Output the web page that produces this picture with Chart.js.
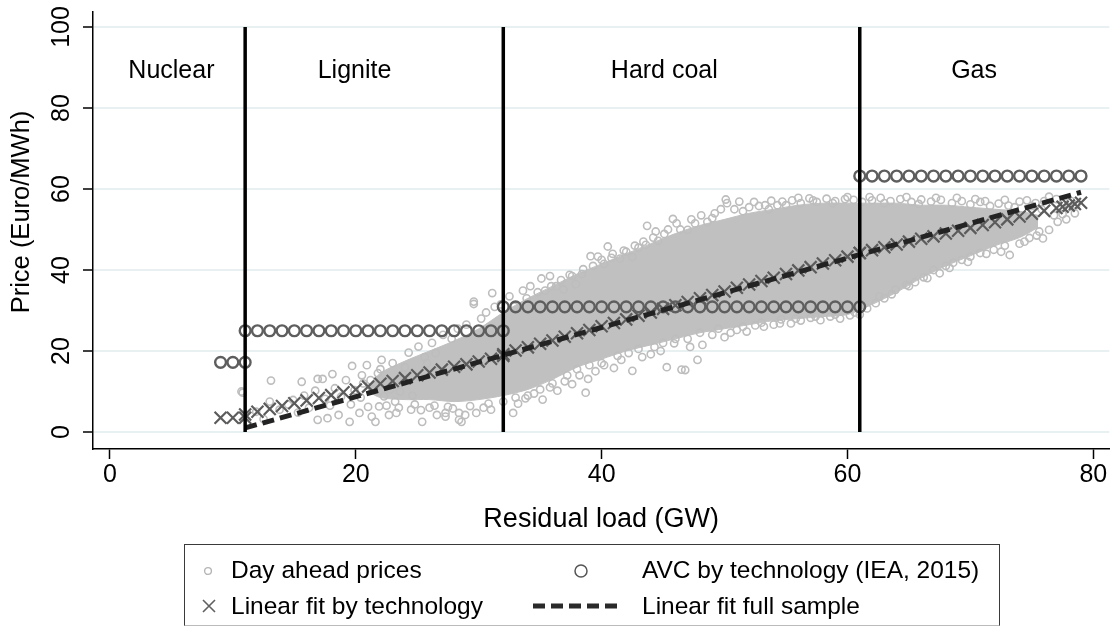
<!DOCTYPE html>
<html>
<head>
<meta charset="utf-8">
<title>Residual load and day ahead prices</title>
<script src="https://cdn.jsdelivr.net/npm/chart.js@4.4.1/dist/chart.umd.min.js"></script>
<style>
  html, body { margin: 0; padding: 0; background: #fff; }
  #wrap { position: relative; width: 1120px; height: 626px; }
  #legend {
    position: absolute; left: 184px; top: 544px; width: 816px; height: 82px;
    box-sizing: border-box; border: 1.5px solid #3a3a3a; border-bottom-color: #bbb;
    font-family: "Liberation Sans", Arial, sans-serif; font-size: 24.5px; color: #000;
  }
  .item { position: absolute; white-space: nowrap; line-height: 30px; }
  .key { position: absolute; line-height: 0; }
  .key svg { display: block; }
</style>
</head>
<body>
<div id="wrap">
  <canvas id="priceChart" width="1120" height="626"></canvas>
  <div id="legend"></div>
</div>
<script>
// technology boundaries (GW) and names
const techBounds = [11, 32, 61];
const techNames = ['Nuclear', 'Lignite', 'Hard coal', 'Gas'];

const xTicks = [0, 20, 40, 60, 80];
const yTicks = [0, 20, 40, 60, 80, 100];

// dense core of the day-ahead price cloud (envelope)
const cloudLoad = [21, 22, 24, 26, 28, 30, 32, 34, 36, 38, 40, 42, 44, 46, 48, 50, 52, 54, 56, 58, 60, 62, 64, 66, 68, 70, 72, 74, 75.5];
const cloudLow  = [10, 8.5, 8, 8, 7.5, 8, 9, 10.5, 13, 16, 18, 20, 21.5, 23, 24.5, 25.5, 26.5, 27.5, 28, 28.5, 29, 31.5, 34.5, 38, 41, 43.5, 46, 48, 50.5];
const cloudHigh = [11, 14.5, 17.5, 20, 22.5, 25.5, 29.5, 33, 36, 39, 41.5, 44, 46.5, 49, 51, 52.5, 54, 55, 56, 56.5, 56.5, 56.5, 56.5, 56, 56, 55.5, 55, 54.5, 53.5];

// single hours outside the dense core: [residual load GW, price EUR/MWh]
const dayAheadPoints = [
  [10.7,10.0],[10.8,9.7],[11.9,5.0],[12.5,3.2],[13.0,7.5],[13.1,12.7],[13.8,5.5],[14.5,6.8],[14.9,7.9],[15.3,4.8],
  [15.6,12.4],[15.8,9.0],[16.2,6.0],[16.7,10.2],[16.9,13.1],[16.9,3.0],[17.3,13.1],[17.5,8.2],[17.7,3.4],[17.9,6.5],
  [18.1,14.3],[18.3,10.8],[18.6,4.2],[18.8,8.7],[19.2,12.8],[19.5,2.5],[19.6,6.8],[19.7,16.3],[19.9,10.3],[20.3,4.7],
  [20.4,8.5],[20.6,12.0],[20.9,16.5],[21.0,6.2],[21.3,3.8],[21.5,10.5],[21.6,2.5],[21.8,14.5],[21.9,6.3],[22.1,17.8],
  [22.3,8.8],[22.5,12.2],[22.7,4.2],[23.0,17.0],[23.2,7.5],[23.3,4.7],[23.6,10.0],[23.8,14.2],
  [24.3,19.6],[25.1,21.1],[25.6,18.5],[26.2,22.0],[27.1,24.0],[27.8,23.0],[28.3,25.5],[29.0,26.5],[29.6,31.6],[29.6,32.2],
  [30.2,28.0],[30.6,29.5],[31.1,34.3],[31.3,30.9],[31.8,31.5],
  [24.5,5.5],[25.3,5.4],[25.4,2.5],[26.0,6.0],[26.6,4.2],[27.3,4.7],[27.3,3.8],[27.9,5.8],[28.4,3.0],[28.4,4.7],
  [28.6,2.5],[28.9,4.2],[29.8,4.7],[30.4,6.0],[31.0,5.5],[32.8,4.7],
  [32.5,33.5],[33.6,34.9],[34.2,36.0],[35.1,37.9],[35.4,34.9],[35.8,38.5],[36.3,36.0],[36.9,35.2],[37.4,38.8],[37.9,36.5],
  [38.5,40.2],[39.1,43.4],[39.7,43.3],[40.2,41.5],[40.5,45.8],[40.9,44.0],[41.5,42.8],[42.0,44.5],[42.5,43.2],[43.0,45.5],
  [43.4,47.0],[43.7,50.9],[44.2,48.0],[44.6,47.2],[45.1,48.9],
  [33.2,7.0],[33.8,8.3],[34.5,9.5],[35.2,8.0],[35.8,11.0],[36.4,10.2],[37.0,12.5],[37.6,11.8],[38.2,14.0],[38.7,9.7],
  [38.9,13.1],[39.5,15.0],[40.2,16.5],[41.0,15.8],[41.6,17.8],[42.5,15.1],[43.3,18.5],[44.0,19.2],[44.8,20.0],[45.3,16.0],
  [45.9,21.9],[46.5,15.4],[46.8,15.3],[47.2,21.0],[47.8,17.8],[48.2,21.5],
  [45.8,52.6],[46.4,50.0],[47.0,49.9],[47.6,51.5],[48.6,51.9],[49.2,54.0],[50.1,57.4],[50.2,56.5],[50.8,55.0],[51.2,56.9],
  [52.0,55.5],[52.8,55.8],[53.3,56.0],[53.8,57.1],[54.3,56.0],[54.7,56.9],[55.5,57.2],[56.2,56.5],[56.9,57.7],[57.5,56.8],
  [58.3,57.6],[59.0,57.0],[59.8,57.5],[60.5,57.3],[61.2,56.8],[62.0,57.2],[62.7,57.8],
  [49.0,24.0],[50.0,23.4],[51.0,25.2],[51.8,24.8],[52.5,26.3],[53.2,26.0],[54.0,26.5],[54.6,27.8],[55.4,26.8],[56.2,27.5],
  [57.0,28.2],[57.8,27.6],[58.6,28.5],[59.4,28.0],[60.2,28.8],[61.0,29.0],[61.6,30.5],[62.3,31.8],
  [63.5,57.0],[64.3,57.5],[65.2,56.8],[66.0,57.4],[66.8,56.9],[67.6,57.3],[68.5,56.5],[69.3,57.0],[70.0,56.2],[70.8,56.8],
  [71.6,55.8],[72.3,56.4],[73.1,55.9],[74.0,56.9],[74.6,57.2],[75.3,56.5],[76.0,57.0],[76.4,58.1],[77.0,57.5],[77.6,56.8],
  [78.2,57.0],
  [63.0,33.0],[63.9,35.1],[64.8,36.3],[65.5,37.0],[66.2,38.2],[67.0,40.0],[67.5,39.2],[68.0,41.0],[68.6,41.8],[69.3,42.5],
  [70.0,43.3],[70.8,44.2],[71.9,45.0],[72.5,44.5],[73.2,43.7],[74.0,46.5],[74.8,47.9],[75.4,48.5],[75.9,47.8],[76.4,49.9],
  [77.1,51.9],[77.8,52.5],[78.5,54.0],[76.8,53.5],[77.3,55.0],[78.0,55.5],[78.6,56.0],[77.5,53.8],
  [32.9,31.0],[33.9,33.0],[34.8,34.5],[35.9,36.0],[36.7,37.5],[37.6,38.5],[38.4,39.0],[39.3,41.0],[40.0,42.5],[40.8,43.0],
  [41.8,44.8],[42.7,46.0],[43.6,46.2],[44.4,49.5],[45.4,50.0],[46.1,51.5],[47.3,52.5],[48.1,53.5],[49.0,52.8],[49.7,55.0],
  [51.5,54.5],[52.4,56.8],[53.6,55.0],[55.0,56.0],[56.0,57.8],[57.2,57.2],[58.8,56.5],[60.0,58.0],[61.8,58.0],[63.0,56.5],
  [64.8,58.0],[65.8,56.3],[67.2,57.8],[68.9,57.8],[70.4,57.5],[71.2,57.0],[72.8,57.3],[73.6,55.5],[75.0,55.8],[75.8,55.0],
  [22.5,6.5],[23.5,6.0],[24.8,6.8],[26.4,6.5],[27.5,6.2],[29.3,6.4],[30.8,7.0],[32.0,7.5],[33.0,8.5],[34.0,9.0],
  [35.0,10.5],[36.0,12.0],[37.2,14.0],[38.0,15.5],[39.0,16.5],[40.0,17.0],[41.3,18.8],[42.2,19.5],[43.0,20.5],[44.3,21.0],
  [45.0,22.0],[46.0,23.0],[47.0,23.0],[48.0,24.5],[49.5,25.5],[50.5,24.5],[51.5,26.0],[53.0,27.0],[54.5,26.8],[55.8,28.0],
  [57.4,28.5],[59.0,29.0],[60.6,29.5],[62.6,33.5],[63.6,34.0],[65.0,36.0],[66.5,38.0],[68.3,40.5],[69.8,42.0],[71.3,44.0],
  [72.8,46.0],[74.4,47.0],[75.6,49.5],
  [20.5,14.0],[21.2,12.8],[22.0,15.5],[22.8,10.5],[23.4,12.5],[24.0,16.0],[24.6,9.0],[25.2,13.5],[25.8,17.0],[26.5,19.5]
];

// average variable cost by technology (IEA, 2015)
const avcLevels = [17.2, 25.0, 30.9, 63.2];
const avcLoads = [
  [9, 10, 11],
  [11, 12, 13, 14, 15, 16, 17, 18, 19, 20, 21, 22, 23, 24, 25, 26, 27, 28, 29, 30, 31, 32],
  [32, 33, 34, 35, 36, 37, 38, 39, 40, 41, 42, 43, 44, 45, 46, 47, 48, 49, 50, 51, 52, 53, 54, 55, 56, 57, 58, 59, 60, 61],
  [61, 62, 63, 64, 65, 66, 67, 68, 69, 70, 71, 72, 73, 74, 75, 76, 77, 78, 79]
];

// linear fit by technology
const fitTechLoad = [
  9, 10, 11,
  11, 12, 13, 14, 15, 16, 17, 18, 19, 20, 21, 22, 23, 24, 25, 26, 27, 28, 29, 30, 31, 32,
  32, 33, 34, 35, 36, 37, 38, 39, 40, 41, 42, 43, 44, 45, 46, 47, 48, 49, 50, 51, 52, 53, 54, 55, 56, 57, 58, 59, 60, 61,
  61, 62, 63, 64, 65, 66, 67, 68, 69, 70, 71, 72, 73, 74, 75, 76, 77, 77.5, 78, 78.5, 79
];
const fitTechPrice = [
  3.5, 3.5, 3.5,
  4.3, 5.0, 5.7, 6.4, 7.1, 7.8, 8.4, 9.1, 9.8, 10.5, 11.2, 11.9, 12.6, 13.3, 14.0, 14.7, 15.4, 16.1, 16.7, 17.4, 18.1, 18.8,
  19.2, 20.1, 20.9, 21.8, 22.6, 23.5, 24.4, 25.2, 26.1, 26.9, 27.8, 28.7, 29.5, 30.4, 31.3, 32.1, 33.0, 33.8, 34.7, 35.6,
  36.4, 37.3, 38.1, 39.0, 39.9, 40.7, 41.6, 42.4, 43.3, 44.2,
  44.2, 44.9, 45.6, 46.3, 47.0, 47.7, 48.3, 49.0, 49.7, 50.4, 51.1, 51.8, 52.5, 53.2, 53.9, 54.6, 55.3, 55.6, 55.9, 56.3, 56.6
];

// linear fit on the full sample
const fitFullLoad = [11, 79];
const fitFullPrice = [1.0, 59.2];

const FONT = '"Liberation Sans", Arial, Helvetica, sans-serif';
Chart.defaults.font.family = FONT;
Chart.defaults.color = '#000';

const toXY = (xs, ys) => xs.map((x, i) => ({ x: x, y: ys[i] }));

const avcData = [];
avcLoads.forEach((loads, t) => loads.forEach(x => avcData.push({ x: x, y: avcLevels[t] })));

const boundaryDatasets = techBounds.map(b => ({
  label: 'bound ' + b,
  data: [{ x: b, y: 0 }, { x: b, y: 100 }],
  showLine: true,
  borderColor: '#000',
  borderWidth: 3.5,
  pointRadius: 0,
  order: 1
}));

// region names at the top of the plot
const regionLabelLoad = [5.0, 19.9, 45.1, 70.3];
const regionLabels = {
  id: 'regionLabels',
  afterDatasetsDraw(chart) {
    const { ctx, scales: { x, y } } = chart;
    ctx.save();
    ctx.font = '25px ' + FONT;
    ctx.fillStyle = '#000';
    ctx.textAlign = 'center';
    ctx.textBaseline = 'middle';
    techNames.forEach((name, i) => {
      ctx.fillText(name, x.getPixelForValue(regionLabelLoad[i]), y.getPixelForValue(89.0));
    });
    ctx.restore();
  }
};

// y axis title, centred where the original places it
const yTitle = {
  id: 'yTitle',
  afterDraw(chart) {
    const ctx = chart.ctx;
    ctx.save();
    ctx.translate(22, 212);
    ctx.rotate(-Math.PI / 2);
    ctx.font = '25.5px ' + FONT;
    ctx.fillStyle = '#000';
    ctx.textAlign = 'center';
    ctx.textBaseline = 'middle';
    ctx.fillText('Price (Euro/MWh)', 0, 0);
    ctx.restore();
  }
};

new Chart(document.getElementById('priceChart'), {
  type: 'scatter',
  data: {
    datasets: [
      {
        label: 'cloud low',
        data: toXY(cloudLoad, cloudLow),
        showLine: true,
        borderColor: '#c0c0c0',
        borderWidth: 1,
        pointRadius: 0,
        tension: 0.3,
        fill: false,
        order: 10
      },
      {
        label: 'cloud high',
        data: toXY(cloudLoad, cloudHigh),
        showLine: true,
        borderColor: '#c0c0c0',
        borderWidth: 1,
        backgroundColor: '#c0c0c0',
        pointRadius: 0,
        tension: 0.3,
        fill: '-1',
        order: 9
      },
      {
        label: 'Day ahead prices',
        data: dayAheadPoints.map(p => ({ x: p[0], y: p[1] })),
        pointStyle: 'circle',
        pointRadius: 3.6,
        pointBorderWidth: 1.6,
        pointBorderColor: '#bdbdbd',
        pointBackgroundColor: 'rgba(0,0,0,0)',
        order: 8
      },
      {
        label: 'AVC by technology (IEA, 2015)',
        data: avcData,
        pointStyle: 'circle',
        pointRadius: 5.4,
        pointBorderWidth: 2.4,
        pointBorderColor: '#5e5e5e',
        pointBackgroundColor: 'rgba(0,0,0,0)',
        order: 7
      },
      {
        label: 'Linear fit by technology',
        data: toXY(fitTechLoad, fitTechPrice),
        pointStyle: 'crossRot',
        pointRadius: 8.5,
        pointBorderWidth: 2.2,
        pointBorderColor: '#5c5c5c',
        order: 6
      },
      {
        label: 'Linear fit full sample',
        data: toXY(fitFullLoad, fitFullPrice),
        showLine: true,
        borderColor: '#232323',
        borderWidth: 5,
        borderDash: [12, 6],
        borderCapStyle: 'butt',
        pointRadius: 0,
        order: 5
      },
      ...boundaryDatasets
    ]
  },
  options: {
    responsive: false,
    animation: false,
    events: [],
    layout: { padding: { left: 0, right: 7, top: 12, bottom: 77 } },
    plugins: {
      legend: { display: false },
      tooltip: { enabled: false }
    },
    scales: {
      x: {
        type: 'linear',
        min: -1.378,
        max: 81.3,
        afterBuildTicks: s => { s.ticks = xTicks.map(v => ({ value: v })); },
        afterFit: s => { s.height = 100; s.paddingLeft = 0; s.paddingRight = 0; },
        ticks: { font: { size: 25 }, padding: 1, color: '#000' },
        grid: { drawOnChartArea: false, drawTicks: true, tickLength: 10, tickColor: '#000', tickWidth: 1.5 },
        border: { display: true, color: '#000', width: 1.5 },
        title: { display: true, text: 'Residual load (GW)', font: { size: 27 }, color: '#000', padding: { top: 0, bottom: 13 } }
      },
      y: {
        type: 'linear',
        min: -4.2,
        max: 103.7,
        afterBuildTicks: s => { s.ticks = yTicks.map(v => ({ value: v })); },
        afterFit: s => { s.width = 93; s.paddingTop = 0; s.paddingBottom = 0; },
        ticks: { font: { size: 25 }, padding: 0, minRotation: 90, maxRotation: 90, crossAlign: 'center', color: '#000' },
        grid: { color: '#e9f0f2', lineWidth: 2, drawTicks: true, tickLength: 10, tickColor: '#000', tickWidth: 1.5 },
        border: { display: true, color: '#000', width: 1.5 }
      }
    }
  },
  plugins: [regionLabels, yTitle]
});

// legend below the plot, laid out in two columns like the original
const legendItems = [
  { text: 'Day ahead prices', left: 46, top: 10,
    key: '<svg width="14" height="14"><circle cx="7" cy="7" r="3.4" fill="none" stroke="#b5b5b5" stroke-width="1.4"/></svg>', kx: 16, ky: 19 },
  { text: 'AVC by technology (IEA, 2015)', left: 457, top: 10,
    key: '<svg width="18" height="18"><circle cx="9" cy="9" r="6" fill="none" stroke="#555" stroke-width="1.5"/></svg>', kx: 387, ky: 17 },
  { text: 'Linear fit by technology', left: 46, top: 46,
    key: '<svg width="16" height="16"><path d="M2 2 L14 14 M14 2 L2 14" stroke="#606060" stroke-width="1.6"/></svg>', kx: 16, ky: 53 },
  { text: 'Linear fit full sample', left: 457, top: 46,
    key: '<svg width="86" height="8"><line x1="0" y1="4" x2="86" y2="4" stroke="#2a2a2a" stroke-width="5" stroke-dasharray="12 6"/></svg>', kx: 348, ky: 57 }
];
const legendEl = document.getElementById('legend');
legendItems.forEach(it => {
  const k = document.createElement('div');
  k.className = 'key';
  k.style.left = it.kx + 'px';
  k.style.top = it.ky + 'px';
  k.innerHTML = it.key;
  legendEl.appendChild(k);
  const t = document.createElement('div');
  t.className = 'item';
  t.style.left = it.left + 'px';
  t.style.top = it.top + 'px';
  t.textContent = it.text;
  legendEl.appendChild(t);
});
</script>
</body>
</html>
